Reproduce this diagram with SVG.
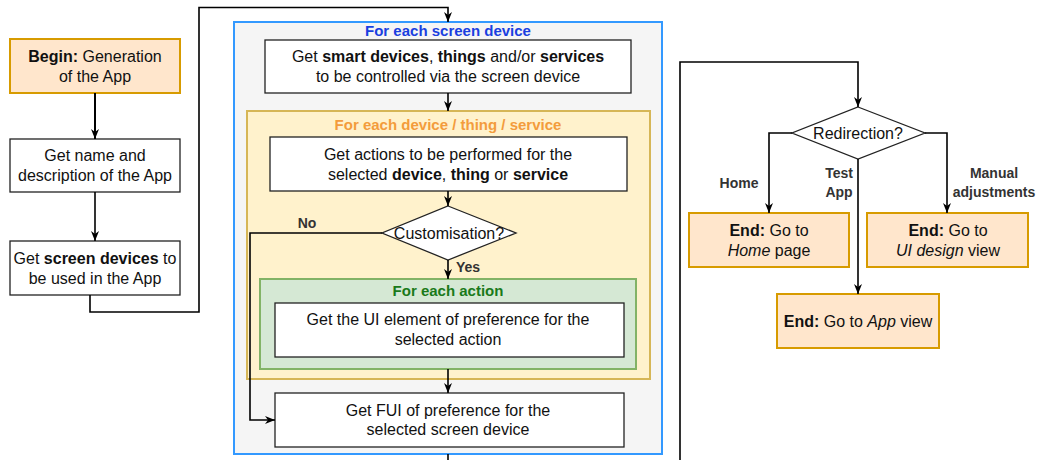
<svg xmlns="http://www.w3.org/2000/svg" width="1038" height="460" viewBox="0 0 1038 460">
<defs>
<marker id="arr" viewBox="0 0 10 10" refX="10" refY="5" markerWidth="10" markerHeight="10" markerUnits="userSpaceOnUse" orient="auto">
<path d="M0,1 L10,5 L0,9 L3,5 z" fill="#000"/>
</marker>
<style>
text{font-family:"Liberation Sans",Arial,sans-serif;font-size:16px;fill:#111;text-anchor:middle}
.b{font-weight:bold}
.i{font-style:italic}
.box{fill:#fff;stroke:#222;stroke-width:1.3}
.end{fill:#ffe6cc;stroke:#d79b00;stroke-width:2}
.lbl{font-size:14px;font-weight:bold;fill:#333}
.ttl{font-size:15px;font-weight:bold}
.c{fill:none;stroke:#000;stroke-width:1.6;marker-end:url(#arr)}
</style>
</defs>
<rect width="1038" height="460" fill="#fff"/>

<g id="container-screen">
<rect x="234" y="22" width="428" height="432" fill="#f5f5f5" stroke="#3399ff" stroke-width="2"/>
<text class="ttl" x="448" y="36" style="fill:#1a3fe0">For each screen device</text>
</g>
<g id="container-device">
<rect x="247" y="111" width="403" height="268" fill="#fff2cc" stroke="#d6b656" stroke-width="2"/>
<text class="ttl" x="448" y="129.5" style="fill:#f39c3c">For each device / thing / service</text>
</g>
<g id="container-action">
<rect x="260" y="279" width="376" height="90" fill="#d5e8d4" stroke="#82b366" stroke-width="2"/>
<text class="ttl" x="448" y="295.5" style="fill:#1a7a1a">For each action</text>
</g>

<g id="begin">
<rect class="end" x="10" y="39" width="170" height="54"/>
<text x="95" y="61.5"><tspan class="b">Begin:</tspan> Generation</text>
<text x="95" y="81.5">of the App</text>
</g>
<g id="get-name">
<rect class="box" x="10" y="139" width="170" height="53"/>
<text x="95" y="161">Get name and</text>
<text x="95" y="181">description of the App</text>
</g>
<g id="get-screens">
<rect class="box" x="10" y="241" width="170" height="54"/>
<text x="95" y="263.5">Get <tspan class="b">screen devices</tspan> to</text>
<text x="95" y="283.5">be used in the App</text>
</g>
<g id="get-smart">
<rect class="box" x="265" y="40" width="366" height="53"/>
<text x="448" y="62">Get <tspan class="b">smart devices</tspan>, <tspan class="b">things</tspan> and/or <tspan class="b">services</tspan></text>
<text x="448" y="82">to be controlled via the screen device</text>
</g>
<g id="get-actions">
<rect class="box" x="270" y="137" width="357" height="54"/>
<text x="448" y="159.5">Get actions to be performed for the</text>
<text x="448" y="179.5">selected <tspan class="b">device</tspan>, <tspan class="b">thing</tspan> or <tspan class="b">service</tspan></text>
</g>
<g id="customisation">
<polygon points="448,206 516,233 448,260 382,233" fill="#fff" stroke="#222" stroke-width="1.3"/>
<text x="449" y="238.5">Customisation?</text>
</g>
<g id="get-ui">
<rect class="box" x="275" y="303" width="349" height="54"/>
<text x="448" y="325">Get the UI element of preference for the</text>
<text x="448" y="344.5">selected action</text>
</g>
<g id="get-fui">
<rect class="box" x="275" y="393" width="349" height="54"/>
<text x="448" y="415.5">Get FUI of preference for the</text>
<text x="448" y="435">selected screen device</text>
</g>
<g id="redirection">
<polygon points="858,107 925,133 858,159 792,133" fill="#fff" stroke="#222" stroke-width="1.3"/>
<text x="858" y="138.5">Redirection?</text>
</g>
<g id="end-home">
<rect class="end" x="689" y="213" width="160" height="54"/>
<text x="769" y="236"><tspan class="b">End:</tspan> Go to</text>
<text x="769" y="256"><tspan class="i">Home</tspan> page</text>
</g>
<g id="end-ui">
<rect class="end" x="867" y="213" width="161" height="54"/>
<text x="948" y="236"><tspan class="b">End:</tspan> Go to</text>
<text x="948" y="256"><tspan class="i">UI design</tspan> view</text>
</g>
<g id="end-app">
<rect class="end" x="777" y="294" width="162" height="54"/>
<text x="858" y="326.5"><tspan class="b">End:</tspan> Go to <tspan class="i">App</tspan> view</text>
</g>

<g id="connectors">
<path class="c" d="M95 93 V139" style="stroke-width:2"/>
<path class="c" d="M95 192 V241"/>
<path class="c" d="M90 295 V312 H199 V7.5 H448 V22"/>
<path class="c" d="M448 93 V111"/>
<path class="c" d="M448 191 V206"/>
<path class="c" d="M448 260 V279"/>
<path class="c" d="M448 369 V393"/>
<path class="c" d="M382 233 H250 V420 H275"/>
<path class="c" d="M448 454 V480 H680 V62 H858 V107"/>
<path class="c" d="M792 133 H769 V213"/>
<path class="c" d="M925 133 H947 V213"/>
<path class="c" d="M858 159 V294"/>
<text class="lbl" x="307" y="228">No</text>
<text class="lbl" x="468" y="272">Yes</text>
<text class="lbl" x="739" y="188">Home</text>
<text class="lbl" x="839" y="178">Test</text>
<text class="lbl" x="839" y="197">App</text>
<text class="lbl" x="994" y="178">Manual</text>
<text class="lbl" x="994" y="197">adjustments</text>
</g>
</svg>
